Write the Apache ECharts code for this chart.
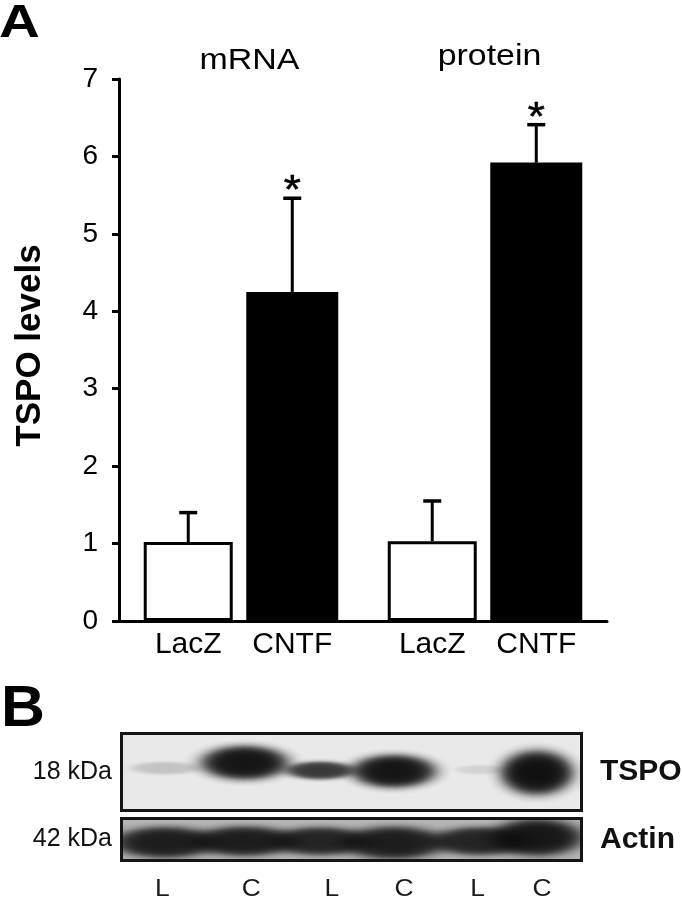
<!DOCTYPE html>
<html><head><meta charset="utf-8">
<script src="https://cdn.jsdelivr.net/npm/echarts@6/dist/echarts.min.js"></script>
<style>html,body{margin:0;padding:0;background:#fff}#c{width:682px;height:900px}</style>
</head><body><div id="c"></div>
<script>
// ---------- Panel A data ----------
const groups = ['mRNA', 'protein'];
const seriesNames = ['LacZ', 'CNTF'];
const lacZ = [1.02, 1.03];
const lacZErr = [0.38, 0.52];
const cntf = [4.25, 5.92];
const cntfErr = [1.21, 0.49];
const cntfSignificant = [1, 1];
const yMin = 0, yMax = 7, yInterval = 1;

// ---------- Panel B data (western blot) ----------
const laneNames = ['L', 'C', 'L', 'C', 'L', 'C'];
const laneBandX = [9.5, 26.8, 43.2, 59.2, 77.9, 90.3];     // lane position, % of blot width
const laneLabelX = [8.9, 28.2, 45.7, 61.4, 77.4, 91.4];    // lane label position, % of blot width
const tspoIntensity = [0.17, 0.96, 0.8, 0.96, 0.1, 0.98];
const actinIntensity = [0.9, 0.9, 0.86, 0.9, 0.86, 0.94];
const blotMarkers = ['18 kDa', '42 kDa'];
const blotProteins = ['TSPO', 'Actin'];

// ---------- layout / style ----------
const FONT = "'Liberation Sans', Arial, Helvetica, sans-serif";
const lacZBarWidth = 89, cntfBarWidth = 92, barGapPct = 0.152;
const gapPx = lacZBarWidth * barGapPct;
const groupW = lacZBarWidth + gapPx + cntfBarWidth;
const lacZOffset = -groupW / 2 + lacZBarWidth / 2;
const cntfOffset = -groupW / 2 + lacZBarWidth + gapPx + cntfBarWidth / 2;

const tspoBandY = [0.55, 0.62, 0.52, 0.51, 0.53, 0.49];
const tspoBandW = [21, 27, 21, 26, 14.5, 22.5];
const tspoBandH = [0.23, 0.63, 0.33, 0.61, 0.17, 0.82];
const actinBandY = [0.43, 0.46, 0.46, 0.42, 0.46, 0.55];
const actinBandW = [32, 32, 30, 32, 30, 28];
const actinBandH = [1.05, 1.0, 0.95, 1.1, 0.95, 1.25];

// smooth plateau profile for blot bands (logistic edge, zero at the rim)
function bandStops(a) {
  const lg = (t) => 1 / (1 + Math.exp((t - 0.68) / 0.09));
  const f0 = lg(0), f1 = lg(1);
  const stops = [];
  for (let i = 0; i <= 20; i++) {
    const t = i / 20;
    const f = Math.max(0, (lg(t) - f1) / (f0 - f1));
    stops.push({ offset: t, color: 'rgba(12,12,12,' + (a * f).toFixed(3) + ')' });
  }
  return stops;
}

function errRenderer(offset) {
  return function (params, api) {
    const cat = api.value(0), v = api.value(1), e = api.value(2), sig = api.value(3);
    const base = api.coord([cat, v]);
    const top = api.coord([cat, v + e]);
    const x = base[0] + offset;
    const children = [
      { type: 'line', shape: { x1: x, y1: base[1], x2: x, y2: top[1] }, style: { stroke: '#000', lineWidth: 3 } },
      { type: 'line', shape: { x1: x - 9, y1: top[1], x2: x + 9, y2: top[1] }, style: { stroke: '#000', lineWidth: 3.5 } }
    ];
    if (sig) {
      children.push({ type: 'text', x: x, y: top[1] - 6, scaleX: 1.1,
        style: { text: '*', font: '40px ' + FONT, fill: '#000', stroke: '#000', lineWidth: 0.6, align: 'center', verticalAlign: 'middle' } });
    }
    return { type: 'group', children };
  };
}

function bandRenderer(params, api) {
  const c = api.coord([api.value(0), api.value(1)]);
  const s = api.size([api.value(2), api.value(3)]);
  const rx = s[0] / 2, ry = s[1] / 2, a = api.value(4);
  return {
    type: 'circle', x: c[0], y: c[1], scaleX: rx / ry,
    shape: { cx: 0, cy: 0, r: ry },
    style: { fill: new echarts.graphic.RadialGradient(0.5, 0.5, 0.5, bandStops(a)) }
  };
}

function laneLabelRenderer(params, api) {
  const c = api.coord([api.value(0), 0]);
  return { type: 'text', x: c[0], y: c[1] + 29, scaleX: 1.1,
    style: { text: laneNames[params.dataIndex], font: '24px ' + FONT, fill: '#1a1a1a', align: 'center', verticalAlign: 'middle' } };
}

const blotLabelAxis = (gi, pos, name, size, weight, margin, pad) => ({
  gridIndex: gi, type: 'category', position: pos, data: [name],
  axisLine: { show: false }, axisTick: { show: false }, splitLine: { show: false },
  axisLabel: { fontSize: size, fontWeight: weight, color: '#111', fontFamily: FONT, margin: margin, padding: pad }
});

const chart = echarts.init(document.getElementById('c'), null, { renderer: 'canvas' });
chart.setOption({
  animation: false,
  backgroundColor: '#fff',
  grid: [
    { left: 119, top: 79, width: 488, height: 542, outerBoundsMode: 'none', containLabel: false },
    { left: 121.5, top: 733.5, width: 460, height: 77, show: true, backgroundColor: '#e9e9e9', borderColor: '#151515', borderWidth: 3, outerBoundsMode: 'none', containLabel: false },
    { left: 121.5, top: 818.5, width: 460, height: 42, show: true, backgroundColor: '#b4b4b4', borderColor: '#151515', borderWidth: 3, outerBoundsMode: 'none', containLabel: false }
  ],
  xAxis: [
    { gridIndex: 0, type: 'category', data: groups,
      axisLine: { show: true, lineStyle: { color: '#000', width: 3 } },
      axisTick: { show: false }, axisLabel: { show: false }, splitLine: { show: false } },
    { gridIndex: 1, type: 'value', min: 0, max: 100, show: false },
    { gridIndex: 2, type: 'value', min: 0, max: 100, show: false }
  ],
  yAxis: [
    { gridIndex: 0, type: 'value', min: yMin, max: yMax, interval: yInterval,
      axisLine: { show: true, lineStyle: { color: '#000', width: 3 } },
      axisTick: { show: true, length: 7, lineStyle: { color: '#000', width: 3 } },
      splitLine: { show: false },
      axisLabel: { fontSize: 28, color: '#000', fontFamily: FONT, margin: 21, padding: [0, 0, 8, 0] },
      name: 'TSPO levels', nameLocation: 'middle', nameGap: 71,
      nameTextStyle: { fontSize: 35, fontWeight: 'bold', color: '#000', fontFamily: FONT, padding: [0, 0, 0, 9] } },
    blotLabelAxis(1, 'left', blotMarkers[0], 25, 'normal', 9.5, [5, 0, 0, 0]),
    blotLabelAxis(1, 'right', blotProteins[0], 30, 'bold', 18.5, [0, 0, 0, 0]),
    { gridIndex: 1, type: 'value', min: 0, max: 1, show: false },
    blotLabelAxis(2, 'left', blotMarkers[1], 25, 'normal', 9.5, [17, 0, 0, 0]),
    blotLabelAxis(2, 'right', blotProteins[1], 30, 'bold', 18.5, [0, 0, 6, 0]),
    { gridIndex: 2, type: 'value', min: 0, max: 1, show: false }
  ],
  graphic: [
    { type: 'text', x: -1, y: 24, scaleX: 1.2, style: { text: 'A', font: 'bold 47px ' + FONT, fill: '#000', verticalAlign: 'middle' } },
    { type: 'text', x: 1, y: 710, scaleX: 1.05, style: { text: 'B', font: 'bold 58px ' + FONT, fill: '#000', verticalAlign: 'middle' } },
    { type: 'text', x: 249.5, y: 61, scaleX: 1.17, style: { text: groups[0], font: '29px ' + FONT, fill: '#000', align: 'center', verticalAlign: 'middle' } },
    { type: 'text', x: 489.5, y: 57, scaleX: 1.17, style: { text: groups[1], font: '29px ' + FONT, fill: '#000', align: 'center', verticalAlign: 'middle' } }
  ],
  series: [
    { type: 'bar', name: seriesNames[0], xAxisIndex: 0, yAxisIndex: 0, data: lacZ, barWidth: lacZBarWidth,
      itemStyle: { color: '#fff', borderColor: '#000', borderWidth: 3 },
      label: { show: true, position: 'bottom', distance: 9, formatter: '{a}', fontSize: 30, color: '#000', fontFamily: FONT } },
    { type: 'bar', name: seriesNames[1], xAxisIndex: 0, yAxisIndex: 0, data: cntf, barWidth: cntfBarWidth, barGap: (barGapPct * 100) + '%',
      itemStyle: { color: '#000' },
      label: { show: true, position: 'bottom', distance: 9, formatter: '{a}', fontSize: 30, color: '#000', fontFamily: FONT } },
    { type: 'custom', xAxisIndex: 0, yAxisIndex: 0, z: 5, renderItem: errRenderer(lacZOffset),
      data: lacZ.map((v, i) => [i, v, lacZErr[i], 0]) },
    { type: 'custom', xAxisIndex: 0, yAxisIndex: 0, z: 5, renderItem: errRenderer(cntfOffset),
      data: cntf.map((v, i) => [i, v, cntfErr[i], cntfSignificant[i]]) },
    { type: 'custom', xAxisIndex: 1, yAxisIndex: 3, clip: true, renderItem: bandRenderer,
      data: tspoIntensity.map((a, i) => [laneBandX[i], tspoBandY[i], tspoBandW[i], tspoBandH[i], a]) },
    { type: 'custom', xAxisIndex: 2, yAxisIndex: 6, clip: true, renderItem: bandRenderer,
      data: actinIntensity.map((a, i) => [laneBandX[i], actinBandY[i], actinBandW[i], actinBandH[i], a]) },
    { type: 'custom', xAxisIndex: 2, yAxisIndex: 6, renderItem: laneLabelRenderer,
      data: laneLabelX.map(x => [x]) }
  ]
});
</script></body></html>
